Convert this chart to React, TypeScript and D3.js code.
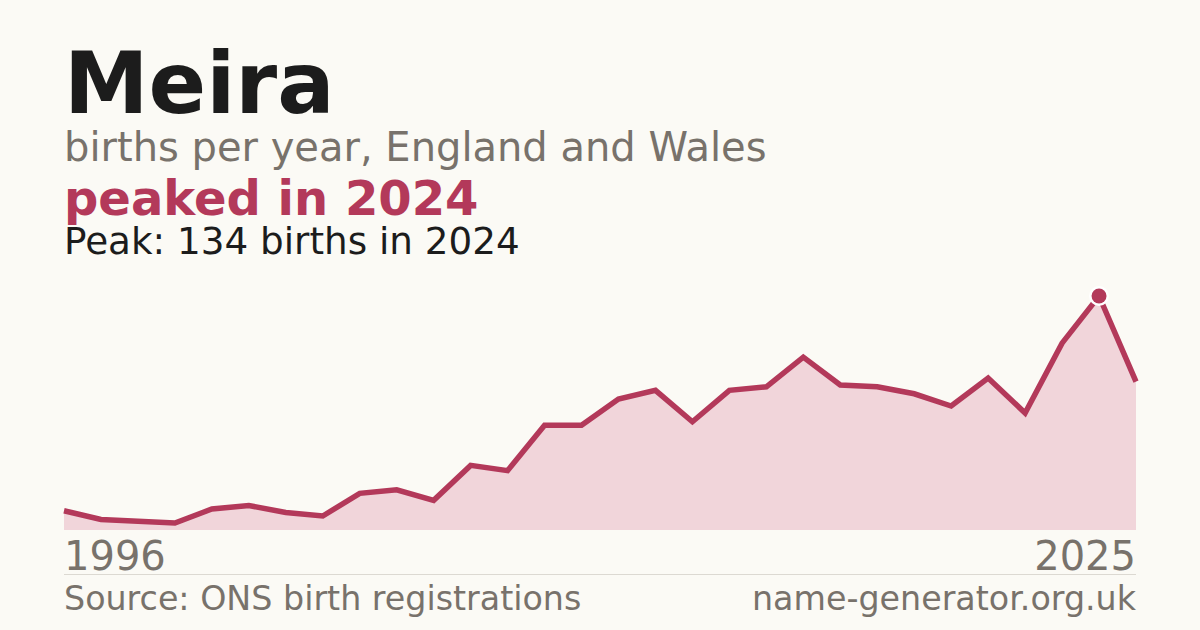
import React from "react";
import * as d3 from "d3";

const years: number[] = [
  1996, 1997, 1998, 1999, 2000, 2001, 2002, 2003, 2004, 2005, 2006, 2007, 2008, 2009, 2010,
  2011, 2012, 2013, 2014, 2015, 2016, 2017, 2018, 2019, 2020, 2021, 2022, 2023, 2024, 2025,
];
const births: number[] = [
  11, 6, 5, 4, 12, 14, 10, 8, 21, 23, 17, 37, 34, 60, 60,
  75, 80, 62, 80, 82, 99, 83, 82, 78, 71, 87, 67, 107, 134, 85,
];
const peakYear = 2024;
const peakValue = 134;

const W = 1200;
const H = 630;
const BG = "#fbfaf5";
const ACCENT = "#b3395a";
const FILL = "#f1d5da";
const GRAY = "#78726b";
const FONT = "'DejaVu Sans', sans-serif";

export default function App() {
  const x = d3.scaleLinear().domain([years[0], years[years.length - 1]]).range([64, 1136]);
  const y = d3.scaleLinear().domain([0, peakValue]).range([530, 296]);
  const pts = years.map((yr, i) => [yr, births[i]] as [number, number]);
  const line = d3.line<[number, number]>().x((d) => x(d[0])).y((d) => y(d[1]));
  const area = d3
    .area<[number, number]>()
    .x((d) => x(d[0]))
    .y0(y(0))
    .y1((d) => y(d[1]));

  return (
    <div style={{ position: "fixed", left: 0, top: 0, width: W, height: H, background: BG }}>
      <svg width={W} height={H} viewBox={`0 0 ${W} ${H}`} style={{ display: "block" }}>
        <rect x={0} y={0} width={W} height={H} fill={BG} />
        <text x={64} y={113} fontFamily={FONT} fontWeight="bold" fontSize={85} fill="#1c1c1c">
          Meira
        </text>
        <text x={64} y={161} fontFamily={FONT} fontSize={40} fill={GRAY}>
          births per year, England and Wales
        </text>
        <text x={64} y={215} fontFamily={FONT} fontWeight="bold" fontSize={48} fill={ACCENT}>
          peaked in 2024
        </text>
        <text x={64} y={254} fontFamily={FONT} fontSize={37.3} fill="#1c1c1c">
          Peak: 134 births in 2024
        </text>

        <path d={area(pts) ?? ""} fill={FILL} />
        <path d={line(pts) ?? ""} fill="none" stroke={ACCENT} strokeWidth={5.5} strokeLinejoin="miter" />
        <circle cx={x(peakYear)} cy={y(peakValue)} r={10} fill="#ffffff" />
        <circle cx={x(peakYear)} cy={y(peakValue)} r={7.5} fill={ACCENT} />

        <text x={64} y={570} fontFamily={FONT} fontSize={40} fill={GRAY}>
          {years[0]}
        </text>
        <text x={1136} y={570} fontFamily={FONT} fontSize={40} fill={GRAY} textAnchor="end">
          {years[years.length - 1]}
        </text>
        <line x1={64} x2={1136} y1={574.5} y2={574.5} stroke="#dcd9d2" strokeWidth={1} />
        <text x={64} y={610} fontFamily={FONT} fontSize={33.3} fill={GRAY}>
          Source: ONS birth registrations
        </text>
        <text x={1136} y={610} fontFamily={FONT} fontSize={33.3} fill={GRAY} textAnchor="end">
          name-generator.org.uk
        </text>
      </svg>
    </div>
  );
}
